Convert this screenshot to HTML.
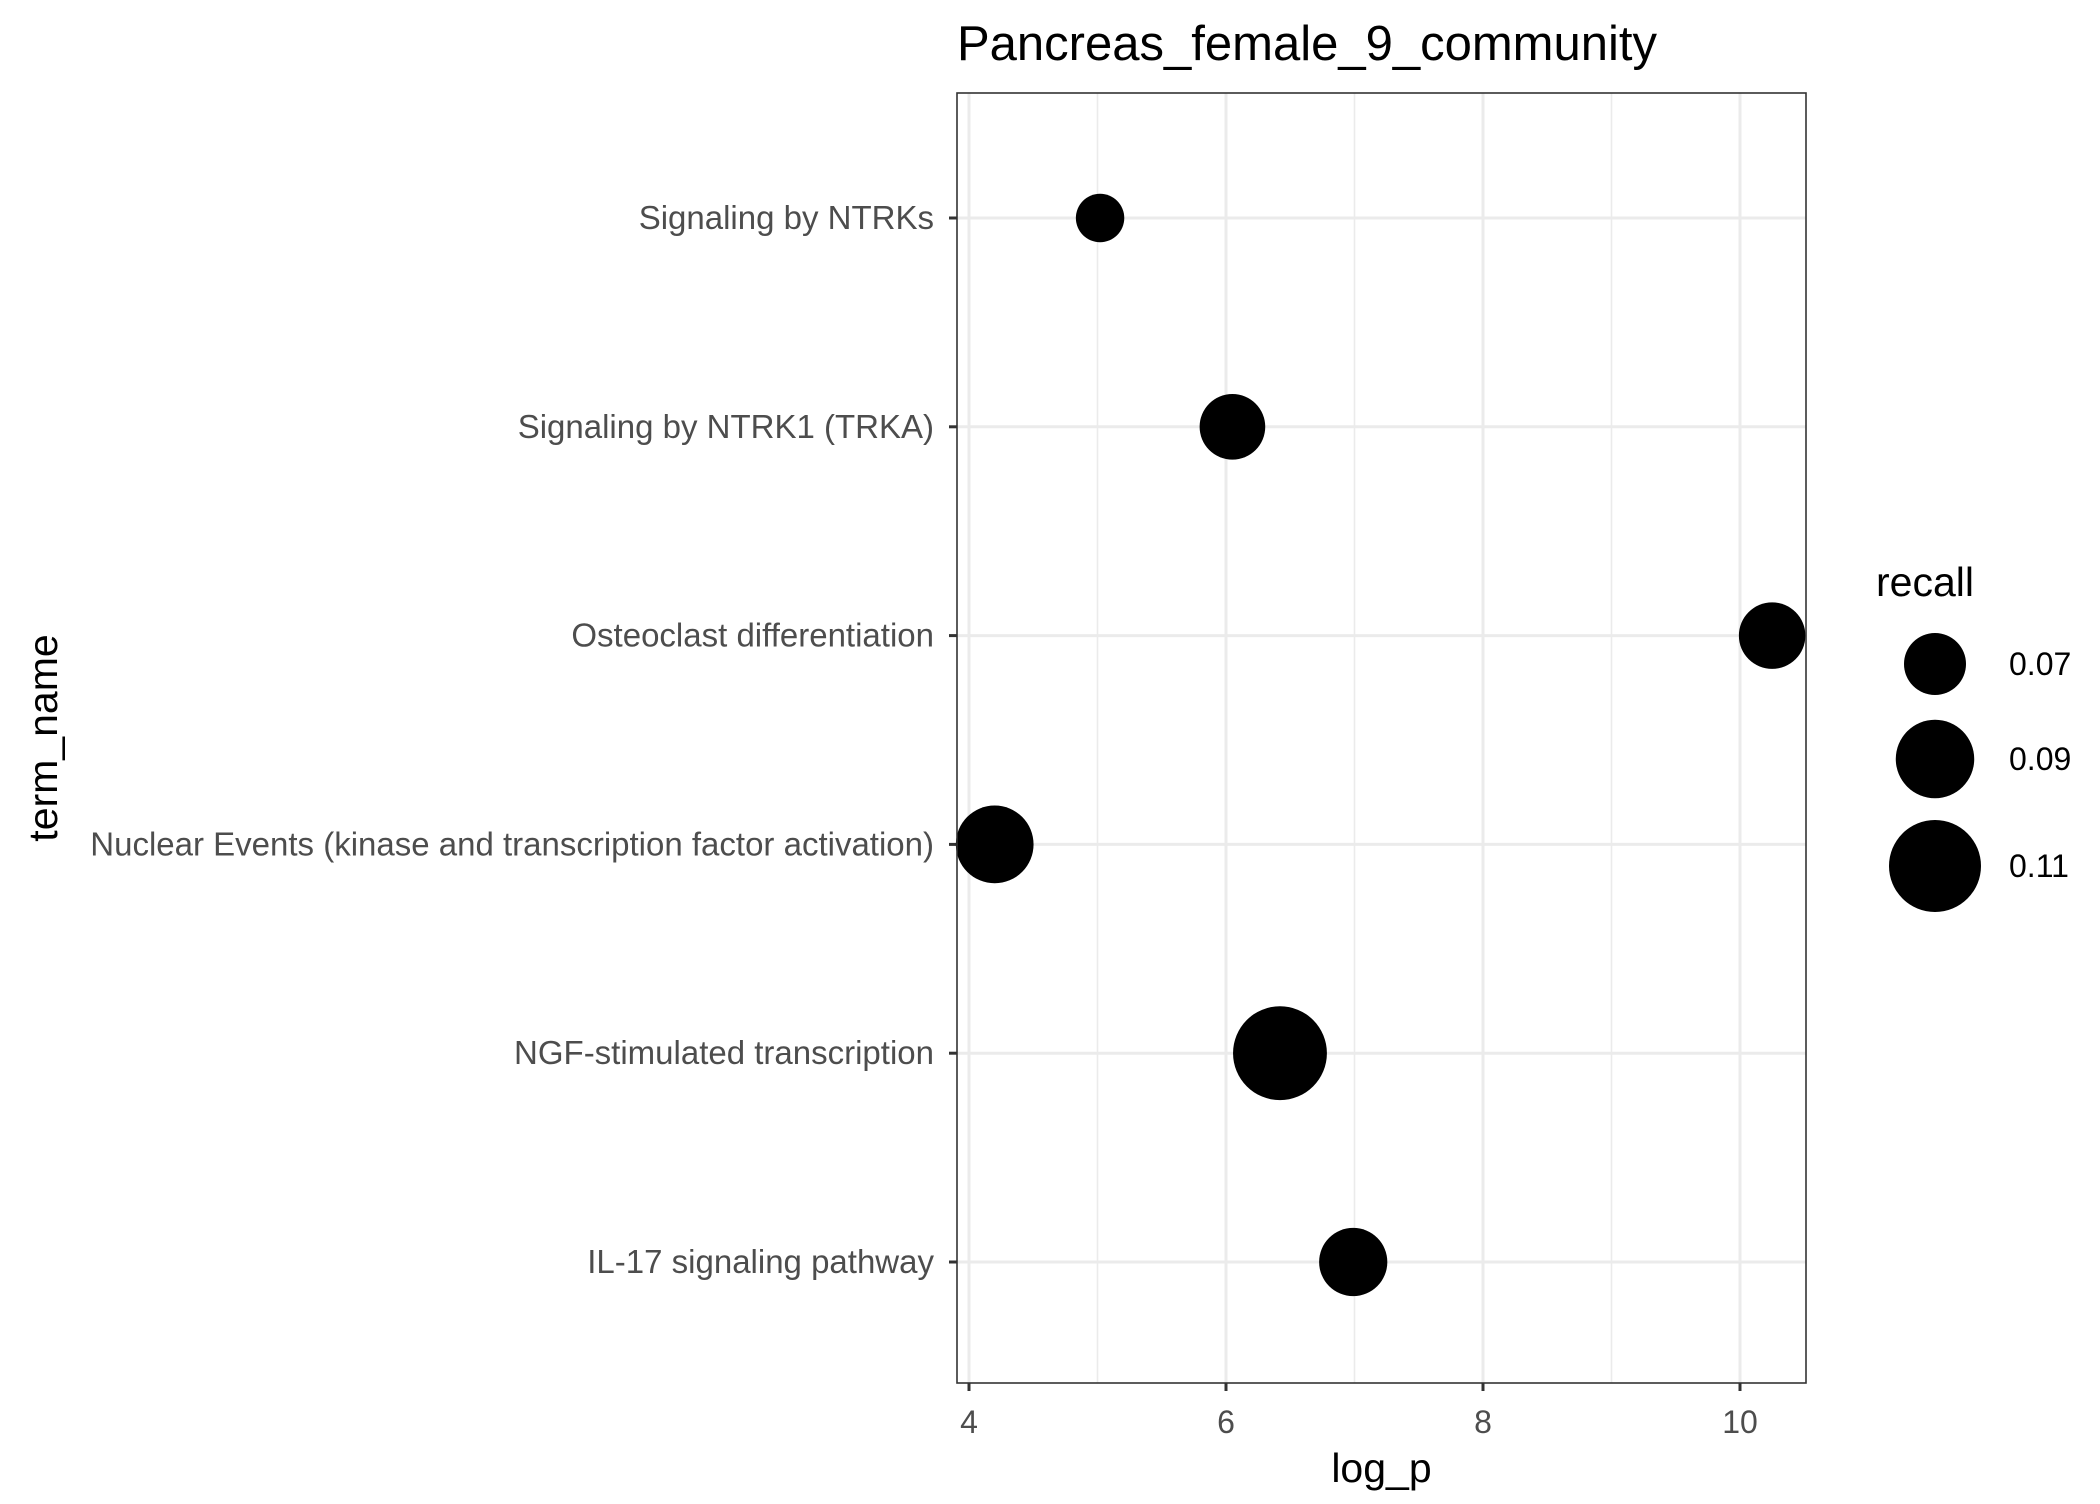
<!DOCTYPE html>
<html><head><meta charset="utf-8"><style>body{margin:0;background:#fff}svg text{font-family:"Liberation Sans",Arial,sans-serif}</style></head>
<body>
<svg id="chart" width="2100" height="1499" xmlns="http://www.w3.org/2000/svg"></svg>
<script>
const categories = ["Signaling by NTRKs","Signaling by NTRK1 (TRKA)","Osteoclast differentiation","Nuclear Events (kinase and transcription factor activation)","NGF-stimulated transcription","IL-17 signaling pathway"];
const logP = [5.02, 6.05, 10.25, 4.2, 6.42, 6.99];
const recall = [0.057, 0.074, 0.075, 0.089, 0.113, 0.077];
const xTicks = [4, 6, 8, 10];
const xMinor = [5, 7, 9];
const legendValues = [0.07, 0.09, 0.11];

const NS = "http://www.w3.org/2000/svg";
const svg = document.getElementById('chart');
const L = 957, R = 1806, T = 93, B = 1383;
const x = v => 969 + (v - 4) * 128.5;
const y = i => 218 + i * 208.8;
const rS = v => Math.sqrt(Math.max(0, -1060 + 28875 * v));
function mk(tag, attrs, text) {
  const e = document.createElementNS(NS, tag);
  for (const k in attrs) e.setAttribute(k, attrs[k]);
  if (text !== undefined) e.textContent = text;
  svg.appendChild(e);
  return e;
}
let e;
e = mk('rect', {x: L, y: T, width: R - L, height: B - T, fill: '#fff'});


xMinor.forEach(v => {
  e = mk('line', {x1: x(v), x2: x(v), y1: T, y2: B, stroke: '#ebebeb', 'stroke-width': 1.6});
  
  
});
xTicks.forEach(v => {
  e = mk('line', {x1: x(v), x2: x(v), y1: T, y2: B, stroke: '#ebebeb', 'stroke-width': 3});
  
  
  e = mk('line', {x1: x(v), x2: x(v), y1: B, y2: B + 8, stroke: '#333', 'stroke-width': 3});
  
  
  e = mk('text', {x: x(v), y: 1433, 'text-anchor': 'middle', 'font-size': 32, fill: '#4d4d4d'}, String(v));
  
  
});
categories.forEach((c, i) => {
  e = mk('line', {x1: L, x2: R, y1: y(i), y2: y(i), stroke: '#ebebeb', 'stroke-width': 3});
  
  
  e = mk('line', {x1: L - 8, x2: L, y1: y(i), y2: y(i), stroke: '#333', 'stroke-width': 3});
  
  
  e = mk('text', {x: L - 23, y: y(i) + 11, 'text-anchor': 'end', 'font-size': 33, fill: '#4d4d4d'}, c);
  
  
});
categories.forEach((c, i) => {
  e = mk('circle', {cx: x(logP[i]), cy: y(i), r: rS(recall[i]), fill: '#000'});
  
  
});
e = mk('rect', {x: L, y: T, width: R - L, height: B - T, fill: 'none', stroke: '#333', 'stroke-width': 1.6});


e = mk('text', {x: 957, y: 60, 'font-size': 49, fill: '#000'}, 'Pancreas_female_9_community');


e = mk('text', {x: (L + R) / 2, y: 1482, 'text-anchor': 'middle', 'font-size': 41, fill: '#000'}, 'log_p');


e = mk('text', {x: 0, y: 0, 'text-anchor': 'middle', 'font-size': 41, fill: '#000', transform: `translate(57,${(T + B) / 2}) rotate(-90)`}, 'term_name');


e = mk('text', {x: 1876, y: 596, 'font-size': 41, fill: '#000'}, 'recall');


const legY = [664, 759, 866];
legendValues.forEach((v, i) => {
  e = mk('circle', {cx: 1935, cy: legY[i], r: rS(v), fill: '#000'});
  
  
  e = mk('text', {x: 2009, y: legY[i] + 11, 'font-size': 32, fill: '#000'}, v.toFixed(2));
  
  
});
</script>
</body></html>
